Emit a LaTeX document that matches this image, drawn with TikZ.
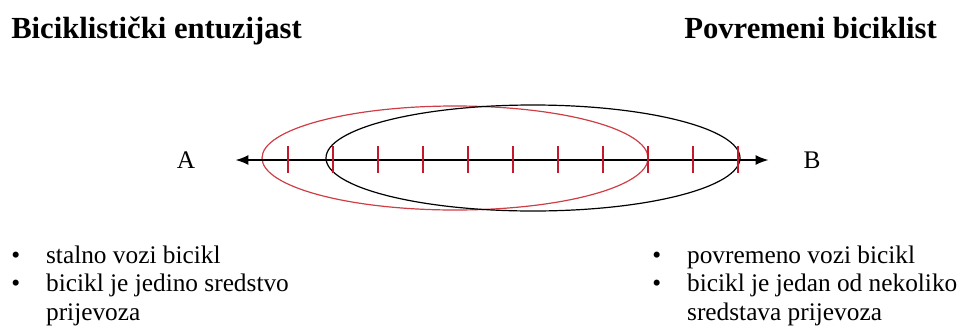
\documentclass[tikz,border=0pt]{standalone}
\usepackage{fontspec}
\setmainfont{Liberation Serif}
\usetikzlibrary{arrows.meta, positioning}
\definecolor{tickred}{RGB}{196,24,44}
\definecolor{ringred}{RGB}{206,62,70}

\begin{document}
\begin{tikzpicture}[
  x=0.75pt, y=-0.75pt,
  font=\fontsize{19}{21.5}\selectfont,
  title/.style={font=\fontsize{23}{26}\selectfont\bfseries, inner sep=0pt},
  pole/.style={inner sep=0pt},
  list/.style={inner sep=0pt, anchor=base west},
  axis/.style={{Latex[length=3.4mm,width=2.6mm]}-{Latex[length=3.4mm,width=2.6mm]}, line width=1.3pt},
  ring/.style={line width=0.9pt},
  tick/.style={tickred, line width=1.4pt},
]
\useasboundingbox (0,0) rectangle (962,329);
% headings
\node[title, anchor=base west] (enth) at (11,38) {Biciklistički entuzijast};
\node[title, anchor=base east] (occ) at (937,38) {Povremeni biciklist};
% the two groups
\draw[ring, ringred] (455,158) ellipse [x radius=193, y radius=52];
\draw[ring, black] (533,158) ellipse [x radius=207, y radius=53];
% axis from A to B
\node[pole] (A) at (186,160) {A};
\node[pole] (B) at (812,160) {B};
\draw[axis, shorten <=30pt, shorten >=26pt] (A) -- (B);
\foreach \i in {0,...,10}
  \draw[tick] ({288+45*\i},146) -- ++(0,27);
% descriptions
\node[list] (left) at (11,263)
  {\begin{tabular}[t]{@{}l@{\hspace{19.5pt}}l@{}}
   \textbullet & stalno vozi bicikl\\
   \textbullet & bicikl je jedino sredstvo\\
               & prijevoza
   \end{tabular}};
\node[list] (right) at (652,263)
  {\begin{tabular}[t]{@{}l@{\hspace{19.5pt}}l@{}}
   \textbullet & povremeno vozi bicikl\\
   \textbullet & bicikl je jedan od nekoliko\\
               & sredstava prijevoza
   \end{tabular}};
\end{tikzpicture}
\end{document}
